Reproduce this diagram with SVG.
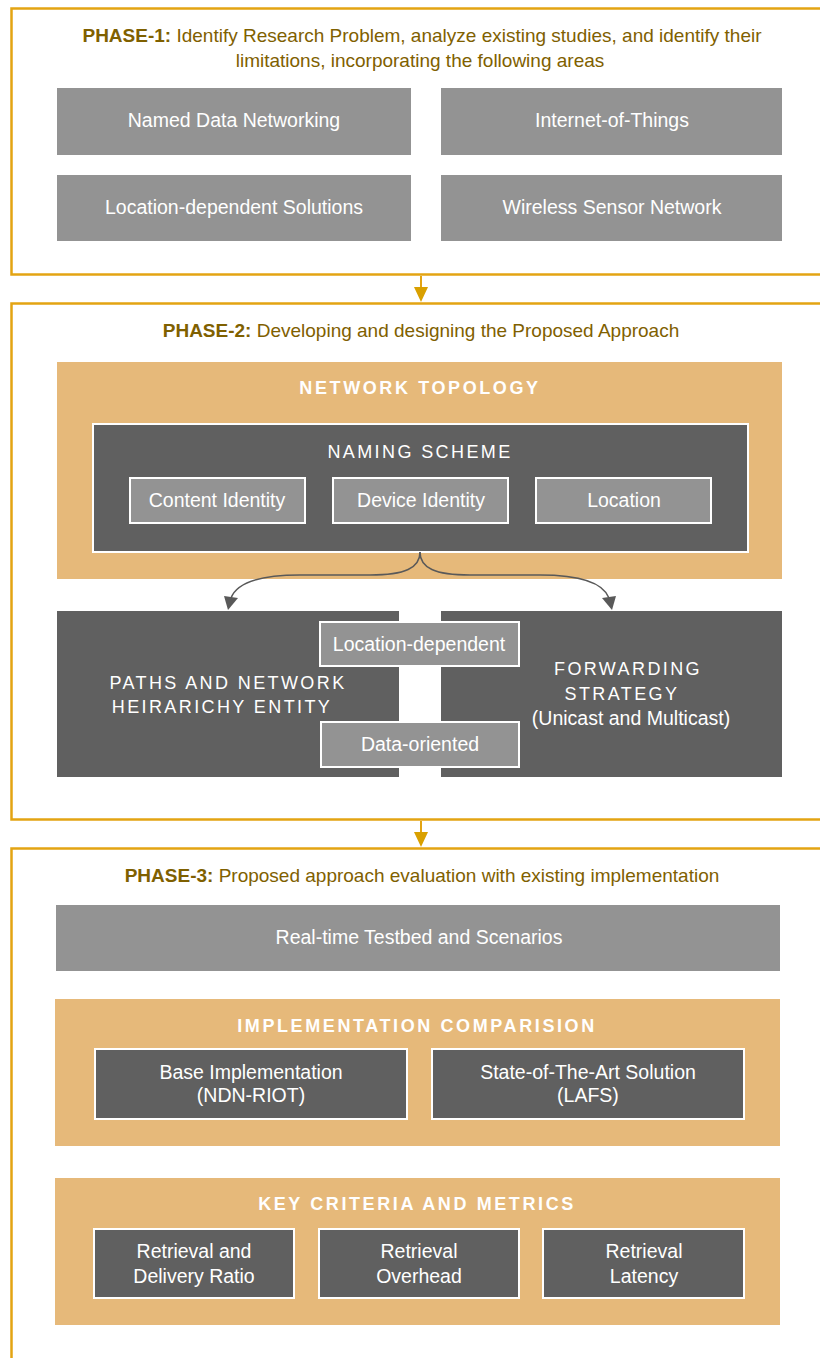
<svg xmlns="http://www.w3.org/2000/svg" width="820" height="1358" viewBox="0 0 820 1358">
<style>
.phase{fill:#fff;stroke:#E3A413;stroke-width:2.5}
.orange{fill:#E6B97A}
.lg{fill:#939393}
.lgw{fill:#939393;stroke:#fff;stroke-width:2}
.dk{fill:#606060}
.dkw{fill:#606060;stroke:#fff;stroke-width:2}
text{font-family:"Liberation Sans",Arial,sans-serif;text-anchor:middle}
.h{fill:#7F6000;font-size:19px}
.hb{font-weight:bold}
.t{fill:#fff;font-size:19.5px}
.ttl{fill:#fff;font-size:18px;letter-spacing:2.4px}
.ttlb{fill:#fff;font-size:18px;letter-spacing:2.6px;font-weight:bold}
.oc{stroke:#E3A413;stroke-width:2;fill:none}
.gc{stroke:#595959;stroke-width:1.5;fill:none}
</style>

<g id="phase1">
<rect class="phase" x="11.5" y="8.5" width="830" height="266"/>
<text class="h" x="422" y="42"><tspan class="hb">PHASE-1:</tspan> Identify Research Problem, analyze existing studies, and identify their</text>
<text class="h" x="420" y="67">limitations, incorporating the following areas</text>
</g>
<g id="ndn"><rect class="lg" x="57" y="88" width="354" height="67"/><text class="t" x="234" y="127">Named Data Networking</text></g>
<g id="iot"><rect class="lg" x="441" y="88" width="341" height="67"/><text class="t" x="612" y="127">Internet-of-Things</text></g>
<g id="loc"><rect class="lg" x="57" y="175" width="354" height="66"/><text class="t" x="234" y="214">Location-dependent Solutions</text></g>
<g id="wsn"><rect class="lg" x="441" y="175" width="341" height="66"/><text class="t" x="612" y="214">Wireless Sensor Network</text></g>

<g id="phase2">
<rect class="phase" x="11.5" y="303.5" width="830" height="516"/>
<text class="h" x="421" y="337"><tspan class="hb">PHASE-2:</tspan> Developing and designing the Proposed Approach</text>
</g>
<g id="topology">
<rect class="orange" x="57" y="362" width="725" height="217"/>
<text class="ttlb" x="420" y="394">NETWORK TOPOLOGY</text>
</g>
<g id="naming">
<rect class="dkw" x="93" y="424" width="655" height="128"/>
<text class="ttl" x="420" y="458">NAMING SCHEME</text>
</g>
<g id="content"><rect class="lgw" x="130" y="478" width="175" height="45"/><text class="t" x="217" y="507">Content Identity</text></g>
<g id="device"><rect class="lgw" x="333" y="478" width="175" height="45"/><text class="t" x="421" y="507">Device Identity</text></g>
<g id="location"><rect class="lgw" x="536" y="478" width="175" height="45"/><text class="t" x="624" y="507">Location</text></g>

<g id="paths">
<rect class="dk" x="57" y="611" width="342" height="166"/>
<text class="ttl" x="228" y="689">PATHS AND NETWORK</text>
<text class="ttl" x="222" y="713">HEIRARICHY ENTITY</text>
</g>
<g id="forwarding">
<rect class="dk" x="441" y="611" width="341" height="166"/>
<text class="ttl" x="628" y="675">FORWARDING</text>
<text class="ttl" x="622" y="700">STRATEGY</text>
<text class="t" x="631" y="725">(Unicast and Multicast)</text>
</g>
<g id="locdep"><rect class="lgw" x="320" y="622" width="199" height="44"/><text class="t" x="419" y="651">Location-dependent</text></g>
<g id="dataor"><rect class="lgw" x="321" y="722" width="198" height="45"/><text class="t" x="420" y="751">Data-oriented</text></g>

<g id="phase3">
<rect class="phase" x="11.5" y="848.5" width="830" height="530"/>
<text class="h" x="422" y="882"><tspan class="hb">PHASE-3:</tspan> Proposed approach evaluation with existing implementation</text>
</g>
<g id="testbed"><rect class="lg" x="56" y="905" width="724" height="66"/><text class="t" x="419" y="944">Real-time Testbed and Scenarios</text></g>
<g id="impl">
<rect class="orange" x="55" y="999" width="725" height="147"/>
<text class="ttlb" x="417" y="1032">IMPLEMENTATION COMPARISION</text>
</g>
<g id="base"><rect class="dkw" x="95" y="1049" width="312" height="70"/><text class="t" x="251" y="1079">Base Implementation</text><text class="t" x="251" y="1102">(NDN-RIOT)</text></g>
<g id="sota"><rect class="dkw" x="432" y="1049" width="312" height="70"/><text class="t" x="588" y="1079">State-of-The-Art Solution</text><text class="t" x="588" y="1102">(LAFS)</text></g>
<g id="criteria">
<rect class="orange" x="55" y="1178" width="725" height="147"/>
<text class="ttlb" x="417" y="1210">KEY CRITERIA AND METRICS</text>
</g>
<g id="rdr"><rect class="dkw" x="94" y="1229" width="200" height="69"/><text class="t" x="194" y="1258">Retrieval and</text><text class="t" x="194" y="1283">Delivery Ratio</text></g>
<g id="ro"><rect class="dkw" x="319" y="1229" width="200" height="69"/><text class="t" x="419" y="1258">Retrieval</text><text class="t" x="419" y="1283">Overhead</text></g>
<g id="rl"><rect class="dkw" x="543" y="1229" width="201" height="69"/><text class="t" x="644" y="1258">Retrieval</text><text class="t" x="644" y="1283">Latency</text></g>

<g id="connectors">
<line class="oc" x1="421" y1="276" x2="421" y2="288"/>
<path d="M414,287 L428,287 L421,302 Z" fill="#D9A000"/>
<line class="oc" x1="421" y1="821" x2="421" y2="833"/>
<path d="M414,832 L428,832 L421,847 Z" fill="#D9A000"/>
<path class="gc" d="M420,552 C420,568 405,575 370,575 L300,575 C255,575 236,585 231,598"/>
<path d="M224,596 L238,598 L228,610 Z" fill="#595959"/>
<path class="gc" d="M420,552 C420,568 435,575 470,575 L540,575 C585,575 604,585 609,598"/>
<path d="M602,598 L616,596 L612,610 Z" fill="#595959"/>
</g>
</svg>
